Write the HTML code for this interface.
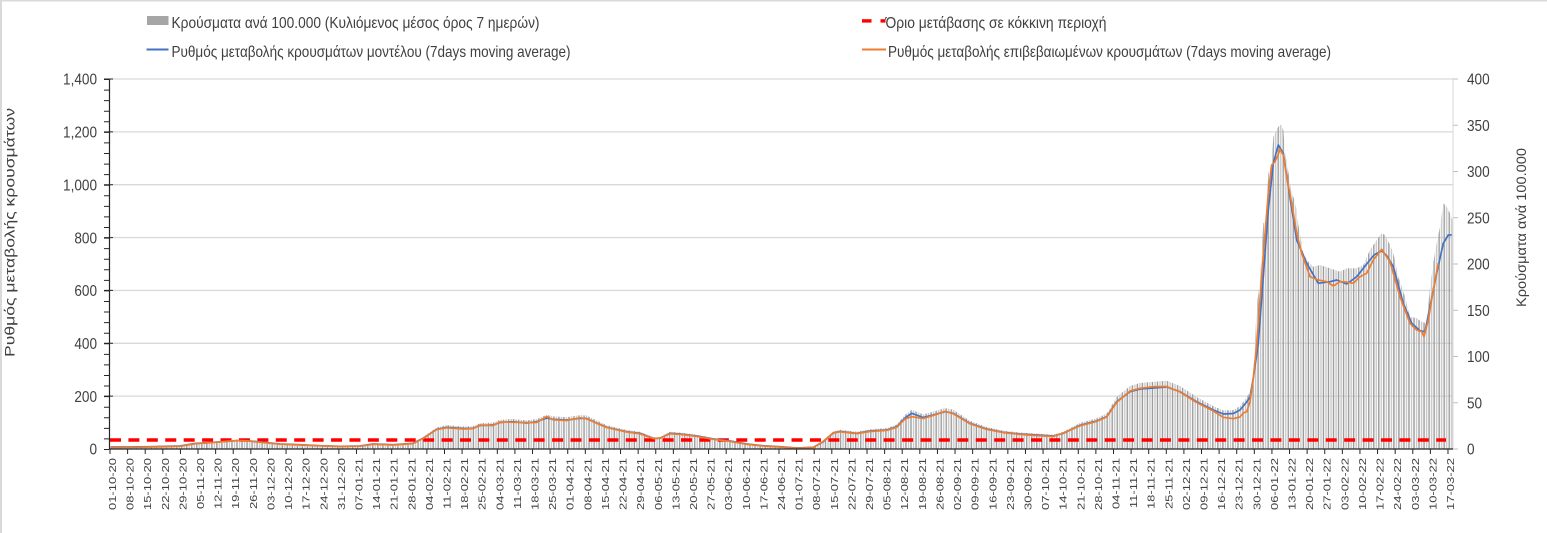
<!DOCTYPE html>
<html><head><meta charset="utf-8"><style>
html,body{margin:0;padding:0;background:#fff;}
svg{display:block;font-family:"Liberation Sans","DejaVu Sans",sans-serif;}
.t{fill:#404040;font-size:16px;}
.xl{fill:#404040;font-size:13px;text-anchor:end;}
</style></head><body>
<svg width="1547" height="533" viewBox="0 0 1547 533" xmlns="http://www.w3.org/2000/svg">
<defs>
<pattern id="bars" patternUnits="userSpaceOnUse" x="110" y="0" width="5.03" height="10">
<rect x="0.55" y="0" width="1.4" height="10" fill="#9a9a9a"/>
<rect x="3.07" y="0" width="1.4" height="10" fill="#c8c8c8"/>
</pattern>
<clipPath id="pc"><rect x="110" y="60" width="1343" height="389"/></clipPath>
</defs>
<rect x="0" y="0" width="1547" height="533" fill="#fff"/>
<rect x="0" y="0" width="1547" height="1.5" fill="#d9d9d9"/>
<rect x="0" y="0" width="2" height="533" fill="#d9d9d9"/>

<!-- gridlines -->
<g stroke="#d9d9d9" stroke-width="1.3">
<path d="M110 79H1453M110 131.86H1453M110 184.71H1453M110 237.57H1453M110 290.43H1453M110 343.29H1453M110 396.14H1453"/>
</g>
<!-- right axis -->
<path d="M1453 79V449" stroke="#d9d9d9" stroke-width="1"/>
<path d="M1453 79h5M1453 125.25h5M1453 171.5h5M1453 217.75h5M1453 264h5M1453 310.25h5M1453 356.5h5M1453 402.75h5M1453 449h5" stroke="#bfbfbf" stroke-width="1"/>

<!-- bars -->
<g clip-path="url(#pc)">
<polygon fill="url(#bars)" transform="matrix(1,0,0,1.1,0,-44.9)" points="110,449 110.5,447 130,447 150,446.7 180,446 195,443.5 213,442.3 237,440.7 247,440.7 260,442 280,444 300,444.7 320,445.7 340,446.3 360,446 373,444 393,444.7 413,443.3 423,438.3 436.7,429.3 446.7,427.3 463.3,428.5 473,428.3 480,425.5 493,425 500,422.5 513,421.7 526.7,423 536.7,421.7 546.7,418 553,419.3 566.7,420 580,418.3 586.7,418.5 596.7,423 606.7,427.3 626.7,431.7 640,433.3 653.3,438.3 660,438.3 670,433.3 680,434 696.7,436 713.3,439 730,441 746.7,444 763.3,445.7 780,446.7 796.7,448 813.3,447.3 823.3,441.7 833.3,433 840,431.5 856.7,433.3 870,431 886.7,430 896.7,426.7 905,418 911.7,413.3 923.3,417.5 933.3,415 945,411.7 953.3,413.3 970,423.3 986.7,429 1003.3,432.3 1020,434 1036.7,435 1053.3,436 1063.3,433.3 1080,425.3 1096.7,421 1106.7,416.7 1116.7,401.7 1130,391.7 1140,389 1153.3,388 1166.7,387 1180,391.7 1196.7,401.7 1213.3,410 1223.3,414 1233.3,413.5 1240,410 1246.7,402 1250,397 1250,449"/>
<polygon fill="url(#bars)" points="1250,449 1250,392 1253.3,373 1256.7,306.7 1260,280 1263.3,223 1265.7,221.7 1268.3,173.3 1271.7,163.3 1273.3,136.7 1278.3,126.7 1280,125 1281.7,125 1283.3,130 1285,151.7 1288.3,171.7 1291.7,193.3 1293.3,196.7 1296.7,210 1298.3,225 1301.7,243.3 1303.3,253.3 1308.3,261.7 1313.3,266.7 1320,265 1330,268.3 1340,271.7 1346.7,268.3 1356.7,268.3 1363.3,265 1370,250 1376.7,240 1381.7,233.3 1385,235 1390,245 1393.3,253.3 1398.3,276.7 1405,296.7 1410,316.7 1416.7,318.3 1421.7,321.7 1426.7,323.3 1430,286.7 1435,251.7 1440,226.7 1443.3,203.3 1446.7,206.7 1450,213.3 1453,221.7 1453,449"/>
</g>

<!-- red threshold -->
<path d="M110 440H1446" stroke="#ff0000" stroke-width="3.6" stroke-dasharray="11 7.42"/>

<!-- blue line -->
<polyline fill="none" stroke="#4472c4" stroke-width="1.7" stroke-linejoin="round" points="110.5,447 130,447 150,446.7 180,446 195,443.5 213,442.3 237,440.7 247,440.7 260,442 280,444 300,444.7 320,445.7 340,446.3 360,446 373,444 393,444.7 413,443.3 423,438.3 436.7,429.3 446.7,427.3 463.3,428.5 473,428.3 480,425.5 493,425 500,422.5 513,421.7 526.7,423 536.7,421.7 546.7,418 553,419.3 566.7,420 580,418.3 586.7,418.5 596.7,423 606.7,427.3 626.7,431.7 640,433.3 653.3,438.3 660,438.3 670,433.3 680,434 696.7,436 713.3,439 730,441 746.7,444 763.3,445.7 780,446.7 796.7,448 813.3,447.3 823.3,441.7 833.3,433 840,431.5 856.7,433.3 870,431 886.7,430 896.7,426.7 905,418 911.7,413.3 923.3,417.5 933.3,415 945,411.7 953.3,413.3 970,423.3 986.7,429 1003.3,432.3 1020,434 1036.7,435 1053.3,436 1063.3,433.3 1080,425.3 1096.7,421 1106.7,416.7 1116.7,401.7 1130,391.7 1140,389 1153.3,388 1166.7,387 1180,391.7 1196.7,401.7 1213.3,410 1223.3,414 1233.3,413.5 1240,410 1246.7,402 1250,397 1253.3,378 1258.3,343.3 1263.3,276.7 1268.3,210 1273.3,163.3 1278.3,145 1283.3,153.3 1288.3,186.7 1296.7,240 1306.7,263.3 1318.3,283.3 1330,281.7 1336.7,280 1346.7,284 1356.7,276.7 1366.7,264 1374,255 1381.7,250.7 1387,256 1393.3,266.7 1403.3,303.3 1411.7,323.3 1420,330.7 1425,331.7 1430,306.7 1436.7,273.3 1443.3,243.3 1448.3,235 1451.7,235"/>

<!-- orange line -->
<polyline fill="none" stroke="#ed7d31" stroke-width="1.7" stroke-linejoin="round" points="110.5,447.5 130,447.3 150,447 180,446.3 195,443.8 213,442.5 237,440.5 247,440.9 260,442.3 280,444.2 300,445 320,445.8 340,446.5 360,446.2 373,444.3 393,445 413,443.6 423,438.6 436.7,429.6 446.7,427.8 463.3,429 473,428.6 480,425 493,425.6 500,422 513,422.3 526.7,422.5 536.7,422.5 546.7,416.5 553,419.8 566.7,420.5 580,417.8 586.7,418.8 596.7,423.3 606.7,427.6 626.7,432 640,433.8 653.3,438.6 660,438 670,433.8 680,434.4 696.7,436.4 713.3,439.3 730,441.4 746.7,444.3 763.3,446 780,447 796.7,448.2 813.3,447.5 823.3,441.3 833.3,432.7 840,431.8 856.7,433.6 870,431.5 886.7,430.4 896.7,427.3 905,419 911.7,416.7 923.3,418.5 933.3,415.4 945,411.3 953.3,413.8 970,423.8 986.7,429.4 1003.3,432.6 1020,434.4 1036.7,435.6 1053.3,436.4 1063.3,433 1080,425.8 1096.7,421.4 1106.7,417 1116.7,402.4 1130,391 1140,388.3 1153.3,386.7 1166.7,386.5 1180,392 1196.7,402.5 1213.3,411 1223.3,417.3 1233.3,418.7 1240,417 1243.3,413 1246.7,411.7 1250,402 1253.3,378 1256.7,345 1260,300 1263.3,255 1268.3,193.3 1271.7,165 1275,161.7 1278,155 1280,149.3 1283.3,155 1286.7,176.7 1291.7,203.3 1296.7,233.3 1301.7,253.3 1310,276.7 1318.3,280 1326.7,281.7 1333.3,286 1340,281.7 1346,282 1353.3,283.3 1360,276.7 1366.7,273.3 1373.3,260 1381.7,249.3 1390,261.7 1400,296.7 1410,323.3 1416.7,330 1421.7,331.7 1424,336.7 1428.3,320 1433.3,290 1438.3,263.3"/>

<!-- left axis -->
<path d="M109.5 79V449.5" stroke="#262626" stroke-width="1.2"/>
<path d="M106.5 79V450" stroke="#262626" stroke-width="5" stroke-dasharray="1 9.571"/>
<path d="M104 79H113M104 131.86H113M104 184.71H113M104 237.57H113M104 290.43H113M104 343.29H113M104 396.14H113" stroke="#262626" stroke-width="1"/>
<!-- x axis -->
<path d="M109 449H1453" stroke="#262626" stroke-width="1.3"/>
<path d="M109.5 451.5H1449" stroke="#262626" stroke-width="5" stroke-dasharray="1 16.605"/>

<!-- left tick labels -->
<g class="t" text-anchor="end">
<text transform="translate(97,84.7) scale(0.85,1)">1,400</text>
<text transform="translate(97,137.56) scale(0.85,1)">1,200</text>
<text transform="translate(97,190.41) scale(0.85,1)">1,000</text>
<text transform="translate(97,243.27) scale(0.85,1)">800</text>
<text transform="translate(97,296.13) scale(0.85,1)">600</text>
<text transform="translate(97,348.99) scale(0.85,1)">400</text>
<text transform="translate(97,401.84) scale(0.85,1)">200</text>
<text transform="translate(97,454.7) scale(0.85,1)">0</text>
</g>
<!-- right tick labels -->
<g class="t">
<text transform="translate(1467,84.7) scale(0.85,1)">400</text>
<text transform="translate(1467,130.95) scale(0.85,1)">350</text>
<text transform="translate(1467,177.2) scale(0.85,1)">300</text>
<text transform="translate(1467,223.45) scale(0.85,1)">250</text>
<text transform="translate(1467,269.7) scale(0.85,1)">200</text>
<text transform="translate(1467,315.95) scale(0.85,1)">150</text>
<text transform="translate(1467,362.2) scale(0.85,1)">100</text>
<text transform="translate(1467,408.45) scale(0.85,1)">50</text>
<text transform="translate(1467,454.7) scale(0.85,1)">0</text>
</g>

<!-- axis titles -->
<text class="t" text-anchor="middle" textLength="249" lengthAdjust="spacingAndGlyphs" transform="translate(14.5,232.5) rotate(-90) scale(1,0.85)">Ρυθμός μεταβολής κρουσμάτων</text>
<text class="t" text-anchor="middle" textLength="159" lengthAdjust="spacingAndGlyphs" transform="translate(1526,227.5) rotate(-90) scale(1,0.85)">Κρούσματα ανά 100.000</text>

<!-- legend -->
<rect x="147" y="16" width="21.5" height="9" fill="#a6a6a6"/>
<text class="t" x="171.5" y="28" textLength="368" lengthAdjust="spacingAndGlyphs">Κρούσματα ανά 100.000 (Κυλιόμενος μέσος όρος 7 ημερών)</text>
<path d="M146.5 49.5H168.5" stroke="#4472c4" stroke-width="2"/>
<text class="t" x="171.5" y="57" textLength="399" lengthAdjust="spacingAndGlyphs">Ρυθμός μεταβολής κρουσμάτων μοντέλου (7days moving average)</text>
<rect x="862" y="19.2" width="9.5" height="3.4" fill="#ff0000"/>
<rect x="880.5" y="19.2" width="5" height="3.4" fill="#ff0000"/>
<text class="t" x="885.5" y="28" textLength="221" lengthAdjust="spacingAndGlyphs">Όριο μετάβασης σε κόκκινη περιοχή</text>
<path d="M862 49.5H886" stroke="#ed7d31" stroke-width="2"/>
<text class="t" x="888" y="57" textLength="443" lengthAdjust="spacingAndGlyphs">Ρυθμός μεταβολής επιβεβαιωμένων κρουσμάτων (7days moving average)</text>

<!-- x labels -->
<g class="xl">
<text transform="translate(116.0,458) rotate(-90) scale(1,0.8)">01-10-20</text>
<text transform="translate(133.6,458) rotate(-90) scale(1,0.8)">08-10-20</text>
<text transform="translate(151.2,458) rotate(-90) scale(1,0.8)">15-10-20</text>
<text transform="translate(168.8,458) rotate(-90) scale(1,0.8)">22-10-20</text>
<text transform="translate(186.4,458) rotate(-90) scale(1,0.8)">29-10-20</text>
<text transform="translate(204.0,458) rotate(-90) scale(1,0.8)">05-11-20</text>
<text transform="translate(221.6,458) rotate(-90) scale(1,0.8)">12-11-20</text>
<text transform="translate(239.2,458) rotate(-90) scale(1,0.8)">19-11-20</text>
<text transform="translate(256.8,458) rotate(-90) scale(1,0.8)">26-11-20</text>
<text transform="translate(274.4,458) rotate(-90) scale(1,0.8)">03-12-20</text>
<text transform="translate(292.1,458) rotate(-90) scale(1,0.8)">10-12-20</text>
<text transform="translate(309.7,458) rotate(-90) scale(1,0.8)">17-12-20</text>
<text transform="translate(327.3,458) rotate(-90) scale(1,0.8)">24-12-20</text>
<text transform="translate(344.9,458) rotate(-90) scale(1,0.8)">31-12-20</text>
<text transform="translate(362.5,458) rotate(-90) scale(1,0.8)">07-01-21</text>
<text transform="translate(380.1,458) rotate(-90) scale(1,0.8)">14-01-21</text>
<text transform="translate(397.7,458) rotate(-90) scale(1,0.8)">21-01-21</text>
<text transform="translate(415.3,458) rotate(-90) scale(1,0.8)">28-01-21</text>
<text transform="translate(432.9,458) rotate(-90) scale(1,0.8)">04-02-21</text>
<text transform="translate(450.5,458) rotate(-90) scale(1,0.8)">11-02-21</text>
<text transform="translate(468.1,458) rotate(-90) scale(1,0.8)">18-02-21</text>
<text transform="translate(485.7,458) rotate(-90) scale(1,0.8)">25-02-21</text>
<text transform="translate(503.3,458) rotate(-90) scale(1,0.8)">04-03-21</text>
<text transform="translate(520.9,458) rotate(-90) scale(1,0.8)">11-03-21</text>
<text transform="translate(538.5,458) rotate(-90) scale(1,0.8)">18-03-21</text>
<text transform="translate(556.1,458) rotate(-90) scale(1,0.8)">25-03-21</text>
<text transform="translate(573.7,458) rotate(-90) scale(1,0.8)">01-04-21</text>
<text transform="translate(591.3,458) rotate(-90) scale(1,0.8)">08-04-21</text>
<text transform="translate(608.9,458) rotate(-90) scale(1,0.8)">15-04-21</text>
<text transform="translate(626.5,458) rotate(-90) scale(1,0.8)">22-04-21</text>
<text transform="translate(644.2,458) rotate(-90) scale(1,0.8)">29-04-21</text>
<text transform="translate(661.8,458) rotate(-90) scale(1,0.8)">06-05-21</text>
<text transform="translate(679.4,458) rotate(-90) scale(1,0.8)">13-05-21</text>
<text transform="translate(697.0,458) rotate(-90) scale(1,0.8)">20-05-21</text>
<text transform="translate(714.6,458) rotate(-90) scale(1,0.8)">27-05-21</text>
<text transform="translate(732.2,458) rotate(-90) scale(1,0.8)">03-06-21</text>
<text transform="translate(749.8,458) rotate(-90) scale(1,0.8)">10-06-21</text>
<text transform="translate(767.4,458) rotate(-90) scale(1,0.8)">17-06-21</text>
<text transform="translate(785.0,458) rotate(-90) scale(1,0.8)">24-06-21</text>
<text transform="translate(802.6,458) rotate(-90) scale(1,0.8)">01-07-21</text>
<text transform="translate(820.2,458) rotate(-90) scale(1,0.8)">08-07-21</text>
<text transform="translate(837.8,458) rotate(-90) scale(1,0.8)">15-07-21</text>
<text transform="translate(855.4,458) rotate(-90) scale(1,0.8)">22-07-21</text>
<text transform="translate(873.0,458) rotate(-90) scale(1,0.8)">29-07-21</text>
<text transform="translate(890.6,458) rotate(-90) scale(1,0.8)">05-08-21</text>
<text transform="translate(908.2,458) rotate(-90) scale(1,0.8)">12-08-21</text>
<text transform="translate(925.8,458) rotate(-90) scale(1,0.8)">19-08-21</text>
<text transform="translate(943.4,458) rotate(-90) scale(1,0.8)">26-08-21</text>
<text transform="translate(961.0,458) rotate(-90) scale(1,0.8)">02-09-21</text>
<text transform="translate(978.6,458) rotate(-90) scale(1,0.8)">09-09-21</text>
<text transform="translate(996.3,458) rotate(-90) scale(1,0.8)">16-09-21</text>
<text transform="translate(1013.9,458) rotate(-90) scale(1,0.8)">23-09-21</text>
<text transform="translate(1031.5,458) rotate(-90) scale(1,0.8)">30-09-21</text>
<text transform="translate(1049.1,458) rotate(-90) scale(1,0.8)">07-10-21</text>
<text transform="translate(1066.7,458) rotate(-90) scale(1,0.8)">14-10-21</text>
<text transform="translate(1084.3,458) rotate(-90) scale(1,0.8)">21-10-21</text>
<text transform="translate(1101.9,458) rotate(-90) scale(1,0.8)">28-10-21</text>
<text transform="translate(1119.5,458) rotate(-90) scale(1,0.8)">04-11-21</text>
<text transform="translate(1137.1,458) rotate(-90) scale(1,0.8)">11-11-21</text>
<text transform="translate(1154.7,458) rotate(-90) scale(1,0.8)">18-11-21</text>
<text transform="translate(1172.3,458) rotate(-90) scale(1,0.8)">25-11-21</text>
<text transform="translate(1189.9,458) rotate(-90) scale(1,0.8)">02-12-21</text>
<text transform="translate(1207.5,458) rotate(-90) scale(1,0.8)">09-12-21</text>
<text transform="translate(1225.1,458) rotate(-90) scale(1,0.8)">16-12-21</text>
<text transform="translate(1242.7,458) rotate(-90) scale(1,0.8)">23-12-21</text>
<text transform="translate(1260.3,458) rotate(-90) scale(1,0.8)">30-12-21</text>
<text transform="translate(1277.9,458) rotate(-90) scale(1,0.8)">06-01-22</text>
<text transform="translate(1295.5,458) rotate(-90) scale(1,0.8)">13-01-22</text>
<text transform="translate(1313.1,458) rotate(-90) scale(1,0.8)">20-01-22</text>
<text transform="translate(1330.7,458) rotate(-90) scale(1,0.8)">27-01-22</text>
<text transform="translate(1348.4,458) rotate(-90) scale(1,0.8)">03-02-22</text>
<text transform="translate(1366.0,458) rotate(-90) scale(1,0.8)">10-02-22</text>
<text transform="translate(1383.6,458) rotate(-90) scale(1,0.8)">17-02-22</text>
<text transform="translate(1401.2,458) rotate(-90) scale(1,0.8)">24-02-22</text>
<text transform="translate(1418.8,458) rotate(-90) scale(1,0.8)">03-03-22</text>
<text transform="translate(1436.4,458) rotate(-90) scale(1,0.8)">10-03-22</text>
<text transform="translate(1454.0,458) rotate(-90) scale(1,0.8)">17-03-22</text>
</g>
</svg>
</body></html>
